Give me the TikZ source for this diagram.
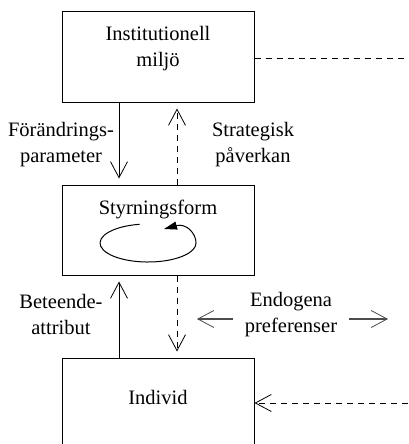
\documentclass[tikz,border=0pt]{standalone}
\usepackage{fontspec}
\setmainfont{Liberation Serif}
\usetikzlibrary{arrows.meta}

\tikzset{
  box/.style={draw, line width=1pt, minimum width=192pt, minimum height=90pt, inner sep=0pt},
  lbl/.style={align=center, font=\fontsize{20.5}{26}\selectfont, inner sep=0pt},
  barb/.style={-{Straight Barb[length=16pt,width=17pt,line width=0.8pt]}},
  flow/.style={barb, line width=1pt, shorten >=6pt},
  dashline/.style={dash pattern=on 6pt off 5pt},
  side/.style={barb, line width=1.3pt, black!70},
}

\begin{document}
\begin{tikzpicture}[x=1pt,y=1pt]
  \clip (0,0) rectangle (408,-444);

  % three levels
  \node[box] (inst) at (158,-57) {};
  \node[box] (styr) at (158,-230) {};
  \node[box, minimum height=110pt] (ind) at (158,-413) {};

  % box texts (base anchor = baseline of the last line)
  \node[lbl, anchor=base] (tinst) at (158,-66.5) {Institutionell\\miljö};
  \node[lbl, anchor=base] (tstyr) at (158,-214) {Styrningsform};
  \node[lbl, anchor=base] (tind) at (158,-404) {Individ};

  % labels beside the links
  \node[lbl, anchor=base] (lf) at (61,-162.5) {Förändrings-\\parameter};
  \node[lbl, anchor=base] (ls) at (253,-162.5) {Strategisk\\påverkan};
  \node[lbl, anchor=base] (lb) at (61,-334) {Beteende-\\attribut};
  \node[lbl, anchor=base, inner xsep=12pt] (le) at (291,-332) {Endogena\\preferenser};

  % vertical links between the levels
  \draw[flow] ([xshift=-39pt]inst.south) -- ([xshift=-39pt]styr.north);
  \draw[flow, dashline] ([xshift=19pt]styr.north) -- ([xshift=19pt]inst.south);
  \draw[flow] ([xshift=-39pt]ind.north) -- ([xshift=-39pt]styr.south);
  \draw[flow, dashline] ([xshift=19pt]styr.south) -- ([xshift=19pt]ind.north);

  % endogenous preferences, both directions
  \coordinate (el) at (197,-319);
  \coordinate (er) at (388,-319);
  \draw[side] (le.west |- el) -- (el);
  \draw[side] (le.east |- er) -- (er);

  % links leaving the picture on the right
  \coordinate (rt) at (408,-59);
  \coordinate (rb) at (408,-403);
  \draw[line width=1pt, dashline] (inst.east |- rt) -- (rt);
  \draw[barb, line width=1pt, dashline] (rb) -- (ind.east |- rb);

  % feedback loop inside the governance box
  \draw[line width=1pt, -{Triangle[length=13pt,width=8pt]}]
    (139.7,-224.3) arc[start angle=100, end angle=360, x radius=48, y radius=19]
    .. controls (196,-233) and (186,-223) .. (164,-229);
\end{tikzpicture}
\end{document}
